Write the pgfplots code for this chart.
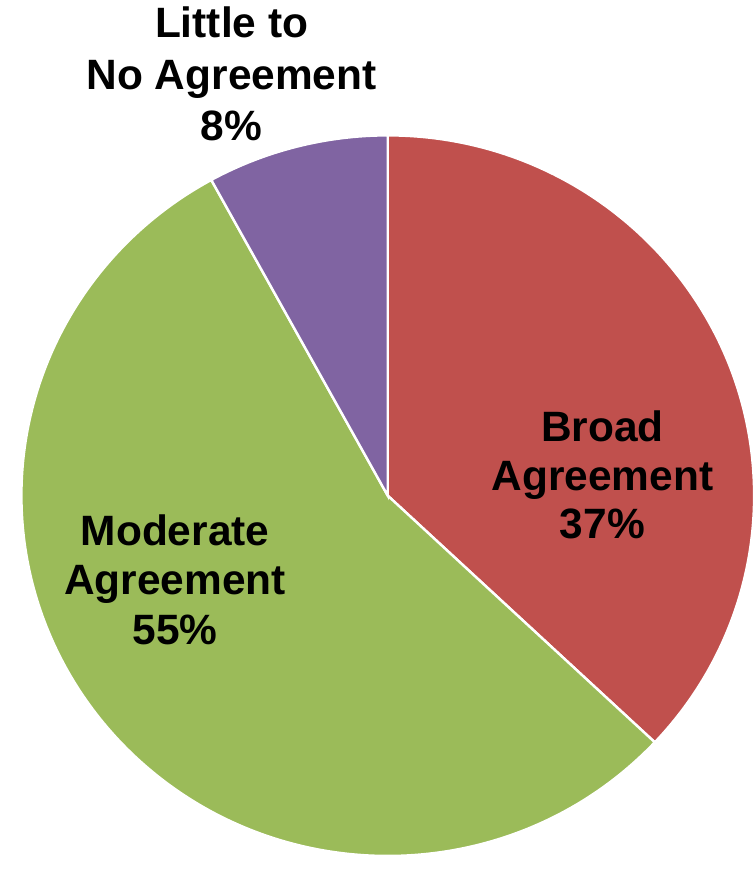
\documentclass[border=0pt]{standalone}
\usepackage{pgfplots}
\usepackage{pgfplotstable}
\pgfplotsset{compat=1.18}
\usepackage{fontspec}
\setmainfont{Liberation Sans}
\definecolor{broadc}{HTML}{C0504D}
\definecolor{modc}{HTML}{9BBB59}
\definecolor{littlec}{HTML}{8064A2}

\pgfplotstableread{
label value
Broad 37
Moderate 55
Little 8
}\piedata

\pgfplotstablegetelem{0}{value}\of\piedata\let\vA\pgfplotsretval
\pgfplotstablegetelem{1}{value}\of\piedata\let\vB\pgfplotsretval
\pgfplotstablegetelem{2}{value}\of\piedata\let\vC\pgfplotsretval
\pgfmathsetmacro\aO{90}
\pgfmathsetmacro\aA{\aO-3.6*\vA}
\pgfmathsetmacro\aB{\aA-3.6*\vB}
\pgfmathsetmacro\aC{\aB-3.6*\vC}

\begin{document}
\begin{tikzpicture}
\begin{axis}[
  scale only axis, width=377.5pt, height=434.5pt,
  xmin=0, xmax=755, ymin=0, ymax=869,
  hide axis, clip=true,
]
\fill[broadc, draw=white, line width=1.2pt] (axis cs:391,369.5) -- ++(\aO:181.3pt and 178.3pt)
  arc[start angle=\aO, end angle=\aA, x radius=181.3pt, y radius=178.3pt] -- cycle;
\fill[modc, draw=white, line width=1.2pt] (axis cs:391,369.5) -- ++(\aA:181.3pt and 178.3pt)
  arc[start angle=\aA, end angle=\aB, x radius=181.3pt, y radius=178.3pt] -- cycle;
\fill[littlec, draw=white, line width=1.2pt] (axis cs:391,369.5) -- ++(\aB:181.3pt and 178.3pt)
  arc[start angle=\aB, end angle=\aC, x radius=181.3pt, y radius=178.3pt] -- cycle;

\node[align=center, font=\fontsize{21}{25.5}\selectfont\bfseries] at (axis cs:236.5,787) {Little to\\No Agreement\\8\%};
\node[align=center, font=\fontsize{21}{24}\selectfont\bfseries] at (axis cs:603.5,390) {Broad\\Agreement\\37\%};
\node[align=center, font=\fontsize{21}{24.5}\selectfont\bfseries] at (axis cs:180.5,286.5) {Moderate\\Agreement\\55\%};
\end{axis}
\end{tikzpicture}
\end{document}
